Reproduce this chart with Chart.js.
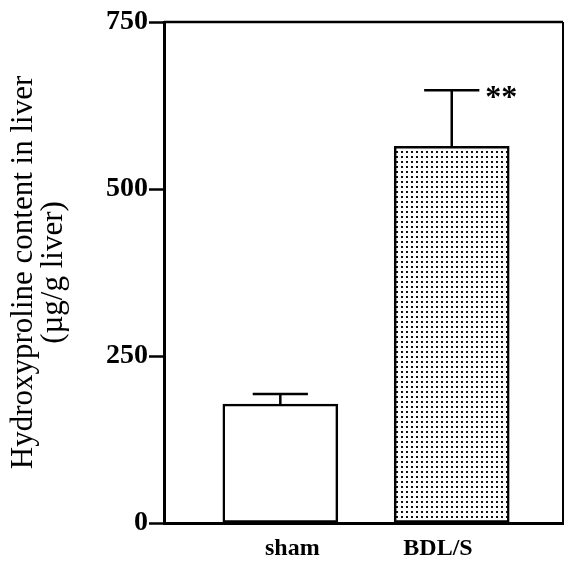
<!DOCTYPE html>
<html>
<head>
<meta charset="utf-8">
<script src="https://cdn.jsdelivr.net/npm/chart.js@4"></script>
<style>
  html, body { margin: 0; padding: 0; background: #fff; }
  #wrap { width: 566px; height: 561px; }
</style>
</head>
<body>
<div id="wrap"><canvas id="chart" width="566" height="561"></canvas></div>
<script>
// donnees
const groupes = ["sham", "BDL/S"];
const valeurs = [178, 564];
const erreurs = [15, 84];
const etoiles = ["", "**"];
const ticksY = [0, 250, 500, 750];
// les noms ne sont pas tout a fait centres sous les barres
const positionsNoms = [1.07, 1.92];

// motif pointille pour la barre BDL/S
function motifPoints() {
    const c = document.createElement("canvas");
    c.width = 5; c.height = 5;
    const g = c.getContext("2d");
    g.fillStyle = "#fff";
    g.fillRect(0, 0, 5, 5);
    g.fillStyle = "#111";
    g.fillRect(1, 1, 2, 2);
    return g.createPattern(c, "repeat");
}

const police = "'Liberation Serif', 'Times New Roman', serif";

// barres d'erreur (seulement vers le haut) + etoiles
const barresErreur = {
    id: "barresErreur",
    afterDatasetsDraw(chart) {
        const ctx = chart.ctx;
        const meta = chart.getDatasetMeta(0);
        const y = chart.scales.y;
        ctx.save();
        ctx.strokeStyle = "#000";
        ctx.lineWidth = 2.5;
        meta.data.forEach((bar, i) => {
            const haut = y.getPixelForValue(valeurs[i] + erreurs[i]);
            const demi = bar.width * 0.24;
            ctx.beginPath();
            ctx.moveTo(bar.x, bar.y);
            ctx.lineTo(bar.x, haut);
            ctx.moveTo(bar.x - demi, haut);
            ctx.lineTo(bar.x + demi, haut);
            ctx.stroke();
            if (etoiles[i]) {
                ctx.fillStyle = "#000";
                ctx.font = "bold 32px " + police;
                ctx.textAlign = "left";
                ctx.textBaseline = "middle";
                ctx.fillText(etoiles[i], bar.x + demi + 6, haut + 9);
            }
        });
        ctx.restore();
    }
};

// cadre haut et droit
const cadre = {
    id: "cadre",
    afterDraw(chart) {
        const a = chart.chartArea;
        const ctx = chart.ctx;
        ctx.save();
        ctx.strokeStyle = "#000";
        ctx.lineWidth = 2.5;
        ctx.beginPath();
        ctx.moveTo(a.left, a.top);
        ctx.lineTo(a.right, a.top);
        ctx.stroke();
        ctx.lineWidth = 2;
        ctx.beginPath();
        ctx.moveTo(a.right, a.top);
        ctx.lineTo(a.right, a.bottom);
        ctx.stroke();
        ctx.restore();
    }
};

new Chart(document.getElementById("chart"), {
    type: "bar",
    data: {
        datasets: [{
            data: valeurs.map((v, i) => ({ x: i + 1, y: v })),
            backgroundColor: ["#fff", motifPoints()],
            borderColor: "#000",
            borderWidth: 2.5,
            borderSkipped: false,
            barThickness: 115
        }]
    },
    options: {
        responsive: false,
        animation: false,
        layout: { padding: { top: 22, right: 3, left: 0, bottom: 0 } },
        plugins: { legend: { display: false }, tooltip: { enabled: false } },
        scales: {
            x: {
                type: "linear",
                offset: false,
                min: 0.3214,
                max: 2.649,
                afterBuildTicks: (s) => { s.ticks = positionsNoms.map(v => ({ value: v })); },
                afterFit: (s) => { s.height = 38; },
                ticks: {
                    callback: (v) => groupes[positionsNoms.indexOf(v)],
                    color: "#000",
                    font: { family: police, size: 24, weight: "bold" },
                    padding: 11,
                    maxRotation: 0
                },
                grid: { display: false, drawTicks: false },
                border: { color: "#000", width: 3 }
            },
            y: {
                min: 0,
                max: 750,
                afterBuildTicks: (s) => { s.ticks = ticksY.map(v => ({ value: v })); },
                afterFit: (s) => { s.width = 164; },
                ticks: {
                    color: "#000",
                    font: { family: police, size: 28, weight: "bold" },
                    padding: 1
                },
                grid: { drawOnChartArea: false, tickLength: 15, color: "#000", tickWidth: 2.5 },
                border: { color: "#000", width: 3 },
                title: {
                    display: true,
                    text: ["Hydroxyproline content in liver", "(µg/g liver)"],
                    color: "#000",
                    font: { family: police, size: 31, lineHeight: 0.97 },
                    padding: { top: 9, bottom: 0 }
                }
            }
        }
    },
    plugins: [barresErreur, cadre]
});
</script>
</body>
</html>
